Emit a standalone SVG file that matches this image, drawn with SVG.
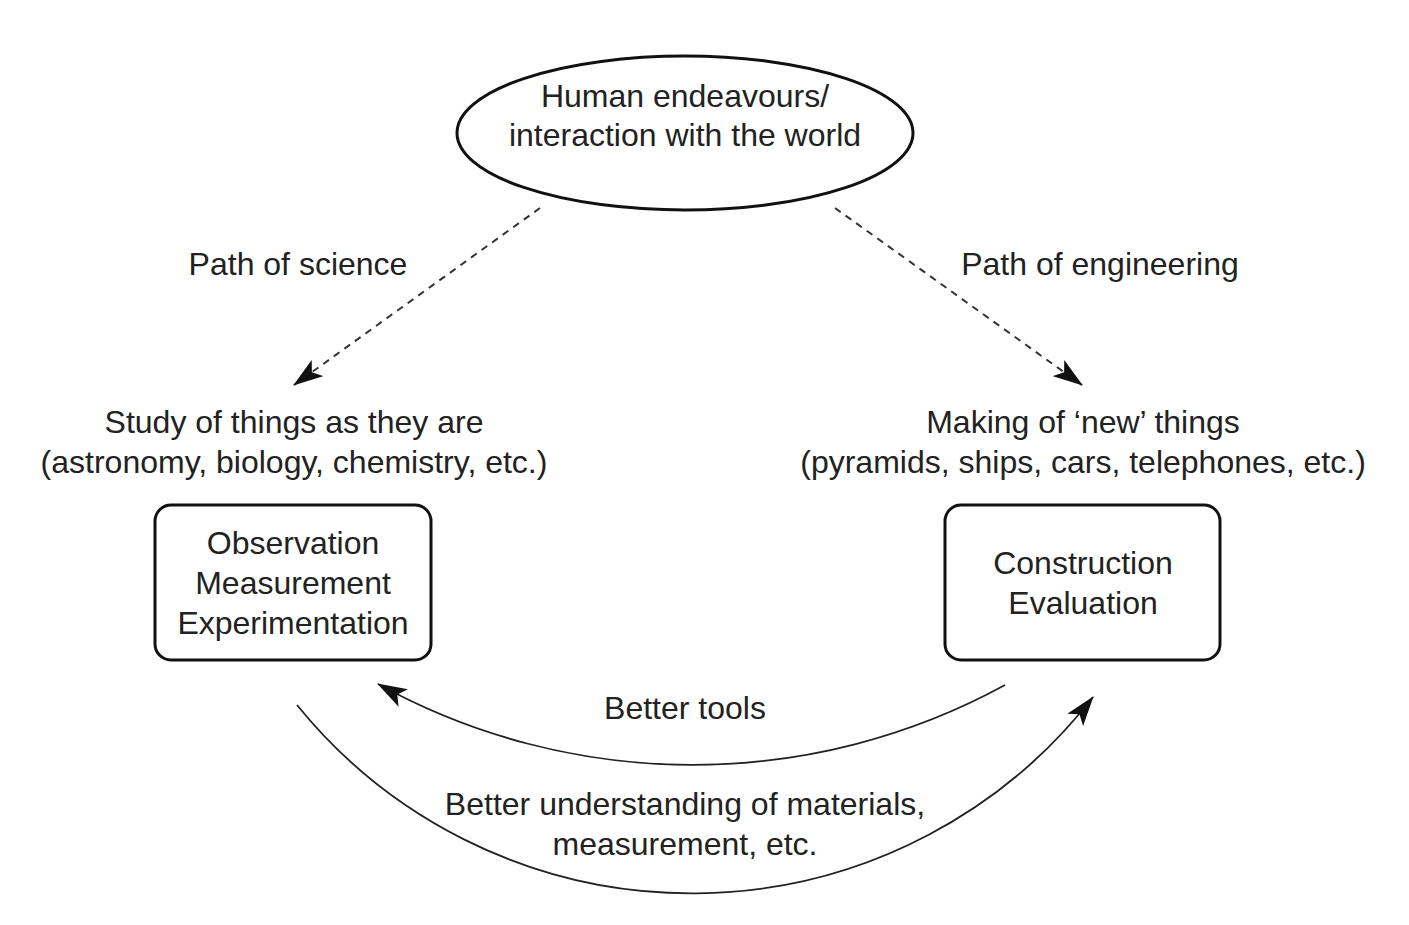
<svg xmlns="http://www.w3.org/2000/svg" width="1409" height="925" viewBox="0 0 1409 925">
<style>
text{font-family:"Liberation Sans",Arial,sans-serif;font-size:32px;fill:#222;text-anchor:middle}
.shape{fill:none;stroke:#111;stroke-width:3}
.dash{fill:none;stroke:#333;stroke-width:2;stroke-dasharray:7,6}
.arc{fill:none;stroke:#222;stroke-width:1.8}
</style>
<defs>
<marker id="ah" viewBox="0 0 30 20" refX="29" refY="10" markerWidth="30" markerHeight="20" markerUnits="userSpaceOnUse" orient="auto">
<path d="M0,0 L30,10 L0,20 L7,10 Z" fill="#111"/>
</marker>
</defs>
<rect width="1409" height="925" fill="#fff"/>
<g id="connectors">
<path class="dash" d="M540,208 L294,385" marker-end="url(#ah)"/>
<path class="dash" d="M835,208 L1082,385" marker-end="url(#ah)"/>
<path class="arc" d="M1005,685 A652,652 0 0 1 378,684" marker-end="url(#ah)"/>
<path class="arc" d="M297,705 A508,508 0 0 0 1093,697" marker-end="url(#ah)"/>
<text x="298" y="275">Path of science</text>
<text x="1100" y="275">Path of engineering</text>
<text x="685" y="719">Better tools</text>
<text x="685" y="815">Better understanding of materials,</text>
<text x="685" y="855">measurement, etc.</text>
</g>
<g id="top">
<ellipse class="shape" cx="685" cy="133" rx="228" ry="77"/>
<text x="685" y="107">Human endeavours/</text>
<text x="685" y="146">interaction with the world</text>
</g>
<g id="science-label">
<text x="294" y="433">Study of things as they are</text>
<text x="294" y="473">(astronomy, biology, chemistry, etc.)</text>
</g>
<g id="engineering-label">
<text x="1083" y="433">Making of ‘new’ things</text>
<text x="1083" y="473">(pyramids, ships, cars, telephones, etc.)</text>
</g>
<g id="science-box">
<rect class="shape" x="155" y="505" width="276" height="155" rx="16"/>
<text x="293" y="554">Observation</text>
<text x="293" y="594">Measurement</text>
<text x="293" y="634">Experimentation</text>
</g>
<g id="engineering-box">
<rect class="shape" x="945" y="505" width="275" height="155" rx="16"/>
<text x="1083" y="574">Construction</text>
<text x="1083" y="614">Evaluation</text>
</g>
</svg>
